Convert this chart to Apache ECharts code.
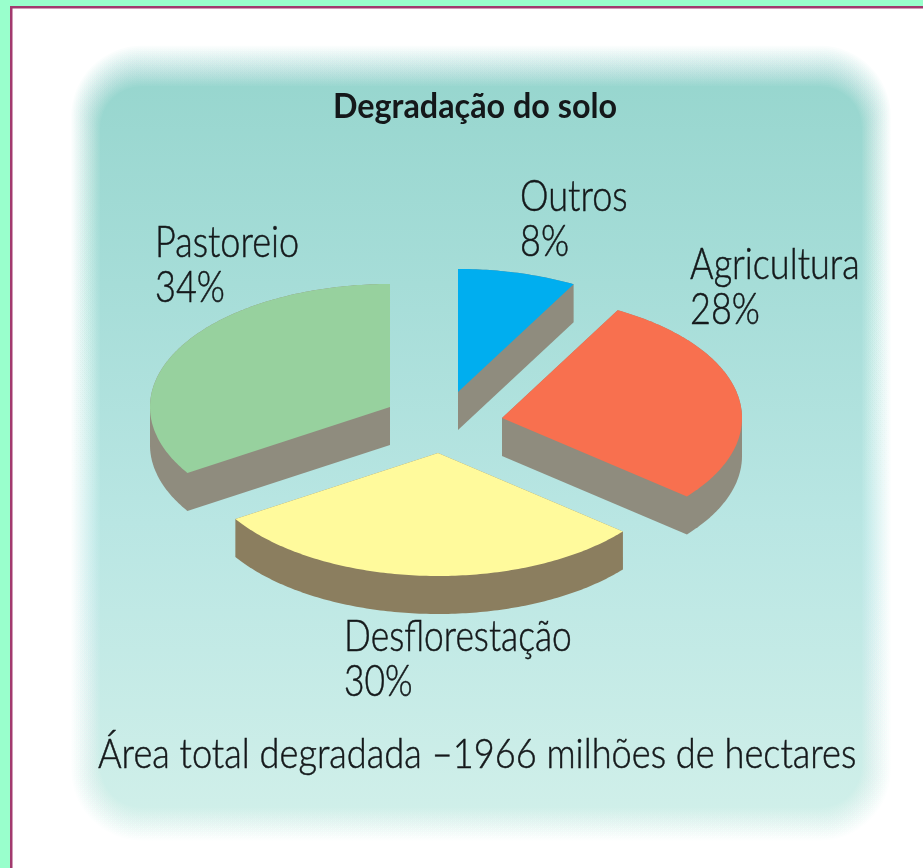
<!DOCTYPE html>
<html><head><meta charset="utf-8">
<style>html,body{margin:0;padding:0;background:#fff}#c{width:923px;height:868px}</style>
<script src="https://cdn.jsdelivr.net/npm/echarts@6/dist/echarts.min.js"></script>
</head><body><div id="c"></div>
<script>
const categories = ['Outros', 'Agricultura', 'Desflorestação', 'Pastoreio'];
const shares = [8, 28, 30, 34];
const titleText = 'Degradação do solo';
const footerText = 'Área total degradada –1966 milhões de hectares';

const topColors = ['#00aeef', '#f8704f', '#fffa9c', '#97d19e'];
const wallColors = ['#8f8c7e', '#8f8c7e', '#8b7e5f', '#8f8c7e'];
const apexX = [458, 502, 438, 390];
const apexY = [392, 418, 453, 407];
const labelX = [520, 690, 344, 155];
const labelY = [219, 287, 659, 265];
const labelScale = [0.82, 0.82, 0.805, 0.82];
const RX = 240, RY = 123, DEPTH = 38;
const FONT = 'Lato, "Open Sans", sans-serif';
const INK = '#14181a';

function hull(pts) {
  const p = pts.slice().sort((a, b) => a[0] - b[0] || a[1] - b[1]);
  const cross = (o, a, b) => (a[0]-o[0])*(b[1]-o[1]) - (a[1]-o[1])*(b[0]-o[0]);
  const lo = [], up = [];
  for (const q of p) { while (lo.length > 1 && cross(lo[lo.length-2], lo[lo.length-1], q) <= 0) lo.pop(); lo.push(q); }
  for (const q of p.slice().reverse()) { while (up.length > 1 && cross(up[up.length-2], up[up.length-1], q) <= 0) up.pop(); up.push(q); }
  return lo.slice(0, -1).concat(up.slice(0, -1));
}
function txt(text, x, y, size, weight, sx) {
  return { type: 'text', x, y, scaleX: sx, z2: 5,
    style: { text, font: `${weight} ${size}px ${FONT}`, fill: INK, stroke: INK, lineWidth: 0.5, align: 'left', verticalAlign: 'middle', lineHeight: 45 } };
}
const total = shares.reduce((a, b) => a + b, 0);

function renderSlice(params, api) {
  const i = params.dataIndex;
  let before = 0;
  for (let k = 0; k < i; k++) before += shares[k];
  const a0 = before / total * Math.PI * 2;
  const a1 = (before + api.value(1)) / total * Math.PI * 2;
  const cx = apexX[i], cy = apexY[i];
  const top = [[cx, cy]];
  const n = Math.ceil((a1 - a0) / 0.015);
  for (let s = 0; s <= n; s++) {
    const a = a0 + (a1 - a0) * s / n;
    top.push([cx + RX * Math.sin(a), cy - RY * Math.cos(a)]);
  }
  const wall = hull(top.concat(top.map(p => [p[0], p[1] + DEPTH])));
  return { type: 'group', children: [
    { type: 'polygon', shape: { points: wall }, style: { fill: wallColors[i] } },
    { type: 'polygon', shape: { points: top }, style: { fill: topColors[i] } },
    txt(categories[i] + '\n' + api.value(1) + '%', labelX[i], labelY[i], 44, 300, labelScale[i])
  ]};
}

// feathered panel
const panelFill = { type: 'linear', x: 0, y: 46, x2: 0, y2: 840, global: true, colorStops: [
  { offset: 0, color: '#95d5cd' }, { offset: 0.3, color: '#a6ddd8' }, { offset: 0.6, color: '#b9e6e3' }, { offset: 1, color: '#d2f0ea' } ] };
const panel = [];
const STEPS = 24;
let prev = 0;
for (let s = 1; s <= STEPS; s++) {
  const t = s / STEPS;
  const alpha = (t - prev) / (1 - prev);
  prev = t;
  const l = 70 + 30 * t, tp = 44 + 42 * t, r = 892 - 30 * t, b = 842 - 34 * t;
  panel.push({ type: 'rect', z: 1, silent: true,
    shape: { x: l, y: tp, width: r - l, height: b - tp, r: 72 - 30 * t },
    style: { fill: panelFill, opacity: alpha } });
}

const chart = echarts.init(document.getElementById('c'), null, { renderer: 'canvas' });
chart.setOption({
  animation: false,
  backgroundColor: '#ffffff',
  graphic: { elements: [
    { type: 'rect', z: 0, shape: { x: 0, y: 0, width: 923, height: 6 }, style: { fill: '#99ffcc' } },
    { type: 'rect', z: 0, shape: { x: 0, y: 0, width: 10, height: 868 }, style: { fill: '#99ffcc' } },
    { type: 'rect', z: 0, shape: { x: 10, y: 6, width: 913, height: 2.5 }, style: { fill: '#a23a6e' } },
    { type: 'rect', z: 0, shape: { x: 10, y: 6, width: 2.5, height: 862 }, style: { fill: '#a23a6e' } },
    ...panel,
    { type: 'text', z: 3, x: 475, y: 107, scaleX: 0.95, style: { text: titleText, font: `700 34px ${FONT}`, fill: INK, align: 'center', verticalAlign: 'middle' } },
    { type: 'text', z: 3, x: 98, y: 754, scaleX: 0.862, style: { text: footerText, font: `300 42px ${FONT}`, fill: INK, stroke: INK, lineWidth: 0.5, align: 'left', verticalAlign: 'middle' } }
  ]},
  series: [{
    type: 'custom', coordinateSystem: 'none', z: 2, silent: true,
    data: shares.map((v, i) => [i, v]),
    renderItem: renderSlice
  }]
});
</script></body></html>
